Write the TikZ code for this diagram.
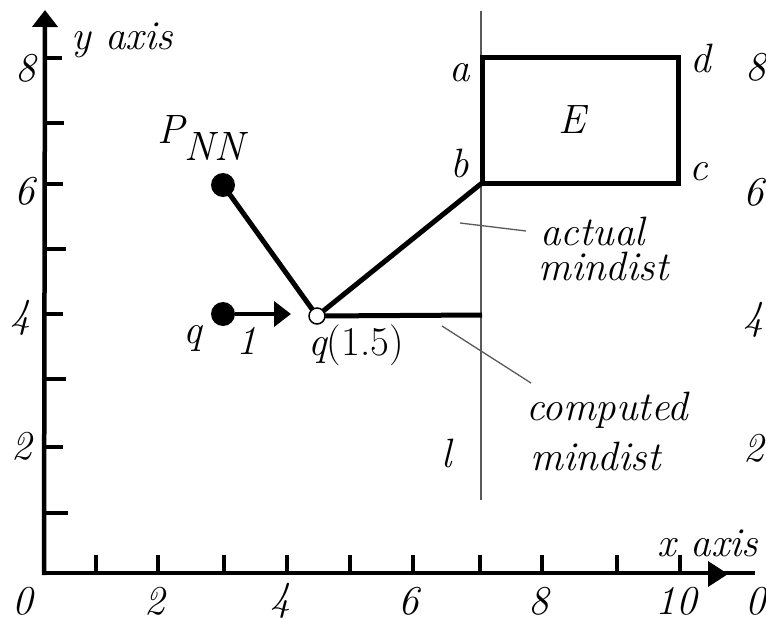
\documentclass[tikz,border=0pt]{standalone}
\usepackage{fontspec}
\usetikzlibrary{arrows.meta}
\newcommand\bigfs{\fontsize{41}{47}\selectfont}
\tikzset{
  lbl/.style={font=\bigfs\itshape, inner sep=0pt, text=black},
  axisline/.style={line width=4.5pt, black},
  tickline/.style={line width=4pt, black},
  thickline/.style={line width=5pt, black},
  thinline/.style={line width=1.3pt, black!65},
  dotfill/.style={circle, fill=black, minimum size=24pt, inner sep=0pt},
  dotopen/.style={circle, draw=black, fill=white, line width=1.5pt, minimum size=16pt, inner sep=0pt},
}
\begin{document}
\begin{tikzpicture}[x=1pt,y=-1pt]
\useasboundingbox (0,0) rectangle (766,618);
% axes
\coordinate (O) at (44,573);
\coordinate (ytop) at (45,10);
\coordinate (xend) at (755,573);
\draw[axisline, -{Triangle[length=17pt,width=25pt]}] (44,575) -- (ytop);
\draw[axisline] (O) -- (xend);
\fill[black] (708,561) -- (728,574) -- (708,587) -- cycle;
% y ticks
\foreach \yy/\len in {58/62,123/64,184/63,249/66,314/63,379/66,447/63,513/68}
  \draw[tickline] (44,\yy) -- (\len,\yy);
% x ticks
\foreach \xx in {96,158,224,287,350,413,480,542,617,680}
  \draw[tickline] (\xx,573) -- (\xx,555);
% axis numbers
\node[lbl] (y8) at (26,68) {8};
\node[lbl] (y6) at (25,191) {6};
\node[lbl] (y4) at (21,318) {4};
\node[lbl] (y2) at (22,446) {2};
\node[lbl] (y0) at (23,601) {0};
\node[lbl] (x2) at (155,601) {2};
\node[lbl] (x4) at (281,601) {4};
\node[lbl] (x6) at (409,601) {6};
\node[lbl] (x8) at (539,601) {8};
\node[lbl] (x10) at (676,601) {10};
\node[lbl] (x0r) at (756,601) {0};
\node[lbl] (r8) at (756,67) {8};
\node[lbl] (r6) at (754,192) {6};
\node[lbl] (r4) at (754,320) {4};
\node[lbl] (r2) at (754,448) {2};
\node[lbl] (ylab) at (122,40) {y\hspace{0.35em}axis};
\node[lbl] (xlab) at (708,543) {x\hspace{0.35em}axis};
% line l
\coordinate (ltop) at (481,11);
\coordinate (lbot) at (481,500);
\draw[thinline] (ltop) -- (lbot);
\node[lbl] (llab) at (447,453) {l};
% rectangle E
\coordinate (a) at (482,58);
\coordinate (b) at (482,183);
\coordinate (c) at (678,183);
\coordinate (d) at (678,58);
\draw[thickline, line join=miter] (a) -- (d) -- (c) -- (b) -- cycle;
\node[lbl] (alab) at (460,73) {a};
\node[lbl] (blab) at (460,163) {b};
\node[lbl] (clab) at (699,172) {c};
\node[lbl] (dlab) at (701,58) {d};
\node[lbl] (Elab) at (572,120) {E};
% points
\coordinate (lq) at (482,315);
\draw[thickline] (223,185) -- (317,316);
\draw[thickline] (317,316) -- (b);
\draw[thickline] (317,316) -- (lq);
\node[dotfill] (pnn) at (223,185) {};
\node[dotfill] (q) at (223,314) {};
\node[dotopen] (q15) at (317,316) {};
\coordinate (qarr) at (291,314);
\draw[line width=4pt, -{Triangle[length=17pt,width=25pt]}] (q.east) -- (qarr);
\node[lbl] (pnnlab) at (157,143) [anchor=base west] {P\raisebox{-17pt}{NN}};
\node[lbl] (qlab) at (193,338) {q};
\node[lbl] (onelab) at (247,341) {1};
\node[lbl] (q15lab) at (356,345) {q\upshape(1.5)};
% annotations
\coordinate (actA) at (460,223);
\coordinate (actB) at (526,231);
\draw[thinline] (actA) -- (actB);
\node[lbl, anchor=base west] (act1) at (540,245) {actual};
\node[lbl, anchor=base west] (act2) at (538,280) {mindist};
\coordinate (compA) at (442,326);
\coordinate (compB) at (531,383);
\draw[thinline] (compA) -- (compB);
\node[lbl, anchor=base west] (comp1) at (526,420) {computed};
\node[lbl, anchor=base west] (comp2) at (530,470) {mindist};
\end{tikzpicture}
\end{document}
